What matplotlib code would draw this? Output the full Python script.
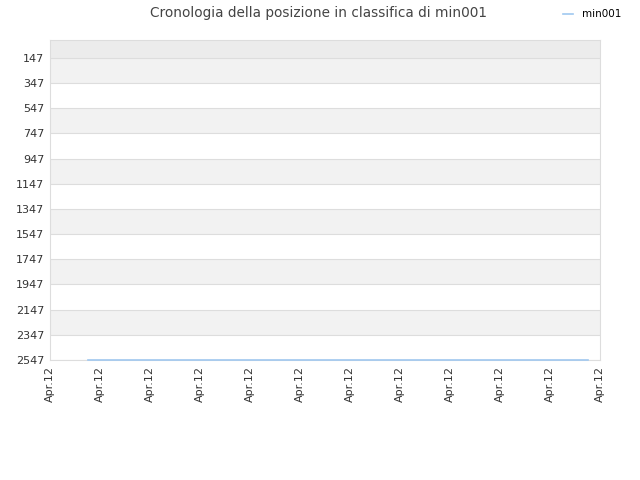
import matplotlib.pyplot as plt

# dati
ticks_y = [147, 347, 547, 747, 947, 1147, 1347, 1547, 1747, 1947, 2147, 2347, 2547]
tick_labels_x = ['Apr.12'] * 12
x_pos = list(range(12))
serie_x = [0.76, 10.76]
serie_y = [2547, 2547]

fig = plt.figure(figsize=(6.4, 4.8), dpi=100)
ax = fig.add_axes([50/640, 120/480, 550/640, 320/480])

ymin, ymax = 4, 2547
ax.set_ylim(ymax, ymin)
ax.set_xlim(0, 11)

# bande alternate
ax.axhspan(ymin, ticks_y[0], color='#ececec', zorder=0, lw=0)
for i in range(len(ticks_y) - 1):
    c = '#f2f2f2' if i % 2 == 0 else '#ffffff'
    ax.axhspan(ticks_y[i], ticks_y[i+1], color=c, zorder=0, lw=0)
for t in ticks_y:
    ax.axhline(t, color='#dddddd', lw=0.8, zorder=1)

ax.plot(serie_x, serie_y, color='#a0c8f0', lw=1.2, label='min001', zorder=5, clip_on=False)

ax.set_yticks(ticks_y)
ax.set_yticklabels([str(t) for t in ticks_y], fontsize=8, color='#333333')
ax.set_xticks(x_pos)
ax.set_xticklabels(tick_labels_x, rotation=90, fontsize=8, color='#333333')
ax.tick_params(length=0, pad=4)
for s in ax.spines.values():
    s.set_color('#dddddd')

fig.suptitle('Cronologia della posizione in classifica di min001', fontsize=9.8, color='#444444', x=0.497, y=0.988)
fig.legend(loc='upper right', bbox_to_anchor=(0.985, 1.0), frameon=False, fontsize=7.5, handlelength=1.0)

fig.savefig('out.png')
